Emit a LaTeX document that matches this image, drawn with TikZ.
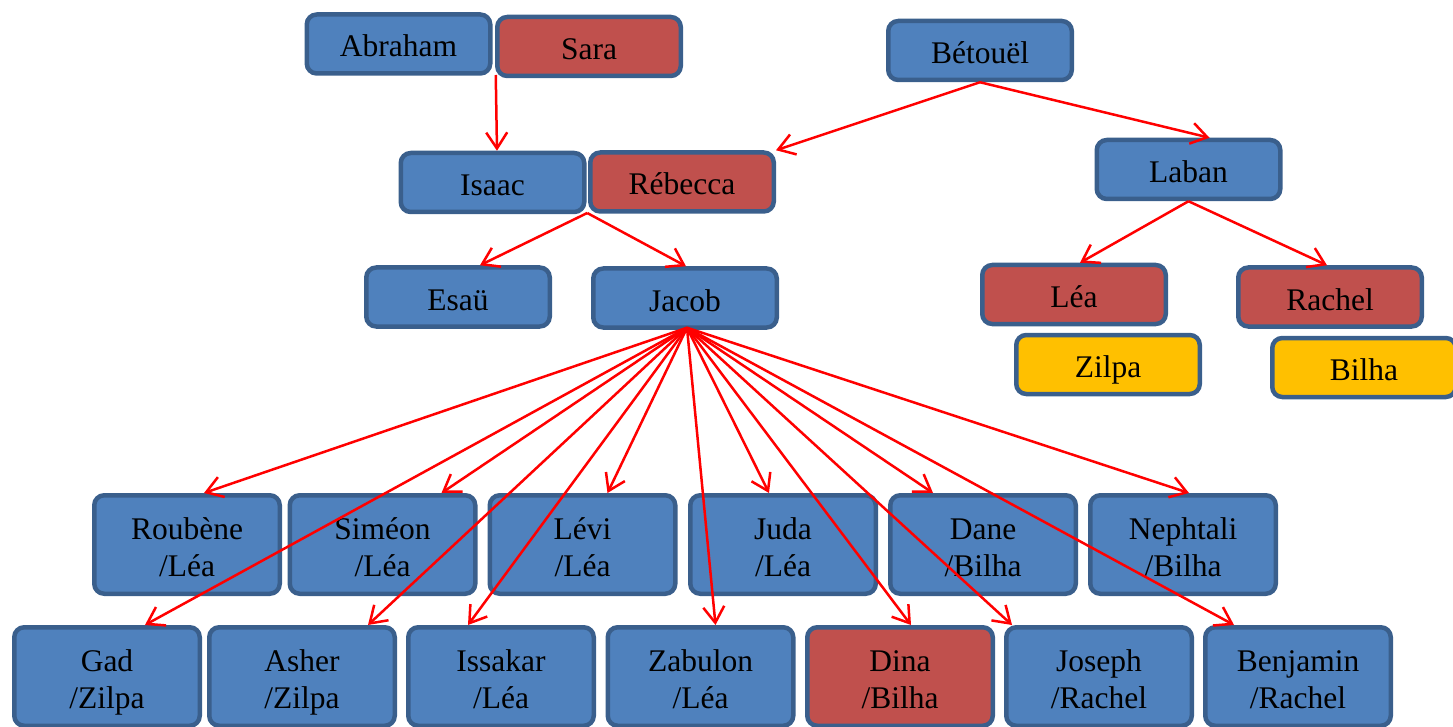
\documentclass[tikz,border=0pt]{standalone}
\usepackage{fontspec}
\setmainfont{Liberation Serif}
\usetikzlibrary{arrows.meta,calc}
\definecolor{boxline}{HTML}{3A5F8C}
\definecolor{bluefill}{HTML}{4F81BD}
\definecolor{redfill}{HTML}{C0504D}
\definecolor{yellowfill}{HTML}{FFC000}
\newcommand\tstrut{\rule[-8pt]{0pt}{42pt}}
\newcommand\boxfont{\fontsize{31.5}{37}\selectfont\lineskiplimit=-100pt\relax\lineskip=0pt\relax}
\tikzset{
  box/.style={draw=boxline, line width=4.5pt, rounded corners=10pt, inner sep=0pt,
    align=center, font=\boxfont,
    minimum width=183.5pt, minimum height=59pt},
  kid/.style={box, minimum width=185.5pt, minimum height=98.5pt},
  bluebox/.style={box, fill=bluefill},
  redbox/.style={box, fill=redfill},
  yellowbox/.style={box, fill=yellowfill},
  link/.style={draw=red, line width=2.5pt, -{Straight Barb[length=16pt,width=21pt]}}
}
\begin{document}
\begin{tikzpicture}[x=1pt,y=-1pt]
\useasboundingbox (0,0) rectangle (1453,727);
\clip (0,0) rectangle (1453,727);
% top generations
\node[bluebox] (abraham) at (398.5,44) {Abraham\tstrut};
\node[redbox] (sara) at (589,46.5) {Sara\tstrut};
\node[bluebox] (betouel) at (980,50.5) {Bétouël\tstrut};
\node[bluebox] (isaac) at (492.5,182.5) {Isaac\tstrut};
\node[redbox] (rebecca) at (682,182) {Rébecca\tstrut};
\node[bluebox] (laban) at (1188.5,169.5) {Laban\tstrut};
\node[bluebox] (esau) at (458,297) {Esaü\tstrut};
\node[bluebox] (jacob) at (685,298) {Jacob\tstrut};
\node[redbox] (lea) at (1074,294.5) {Léa\tstrut};
\node[redbox] (rachel) at (1330,297) {Rachel\tstrut};
\node[yellowbox] (zilpa) at (1108,364.5) {Zilpa\tstrut};
\node[yellowbox] (bilha) at (1364,367.5) {Bilha\tstrut};
% children row 1
\node[bluebox,kid] (roubene) at (187,544.5) {Roubène\tstrut\\/Léa\tstrut};
\node[bluebox,kid] (simeon) at (382.5,544.5) {Siméon\tstrut\\/Léa\tstrut};
\node[bluebox,kid] (levi) at (582.5,544.5) {Lévi\tstrut\\/Léa\tstrut};
\node[bluebox,kid] (juda) at (783,544.5) {Juda\tstrut\\/Léa\tstrut};
\node[bluebox,kid] (dane) at (983,544.5) {Dane\tstrut\\/Bilha\tstrut};
\node[bluebox,kid] (nephtali) at (1183,544.5) {Nephtali\tstrut\\/Bilha\tstrut};
% children row 2
\node[bluebox,kid] (gad) at (107,676.5) {Gad\tstrut\\/Zilpa\tstrut};
\node[bluebox,kid] (asher) at (302,676.5) {Asher\tstrut\\/Zilpa\tstrut};
\node[bluebox,kid] (issakar) at (501,676.5) {Issakar\tstrut\\/Léa\tstrut};
\node[bluebox,kid] (zabulon) at (700.5,676.5) {Zabulon\tstrut\\/Léa\tstrut};
\node[redbox,kid] (dina) at (900,676.5) {Dina\tstrut\\/Bilha\tstrut};
\node[bluebox,kid] (joseph) at (1099,676.5) {Joseph\tstrut\\/Rachel\tstrut};
\node[bluebox,kid] (benjamin) at (1298,676.5) {Benjamin\tstrut\\/Rachel\tstrut};
% junction points
\coordinate (as) at ($(abraham.south east)!0.5!(sara.south west)+(2,-2)$);
\coordinate (ir) at ($(isaac.south east)!0.5!(rebecca.south west)+(0,-1)$);
% connectors
\draw[link] (as) -- ($(isaac.north)+(4.5,0)$);
\draw[link] (betouel.south) -- (rebecca.north east);
\draw[link] (betouel.south) -- ($(laban.north)+(21,0)$);
\draw[link] (ir) -- ($(esau.north)+(22,0)$);
\draw[link] (ir) -- ($(jacob.north)+(1,0)$);
\draw[link] (laban.south) -- ($(lea.north)+(6,0)$);
\draw[link] (laban.south) -- ($(rachel.north)+(-3,0)$);
\coordinate (js) at ($(jacob.south)+(2,-2)$);
\draw[link] (js) -- ($(roubene.north)+(17,0)$);
\draw[link] (js) -- ($(gad.north)+(38,0)$);
\draw[link] (js) -- ($(simeon.north)+(59,0)$);
\draw[link] (js) -- ($(asher.north)+(66,0)$);
\draw[link] (js) -- ($(levi.north)+(25,0)$);
\draw[link] (js) -- ($(issakar.north)+(-33,0)$);
\draw[link] (js) -- ($(zabulon.north)+(15,0)$);
\draw[link] (js) -- ($(juda.north)+(-14,0)$);
\draw[link] (js) -- ($(dina.north)+(11,0)$);
\draw[link] (js) -- ($(dane.north)+(-50,0)$);
\draw[link] (js) -- ($(joseph.north)+(-87,0)$);
\draw[link] (js) -- ($(nephtali.north)+(6,0)$);
\draw[link] (js) -- ($(benjamin.north)+(-64,0)$);
\end{tikzpicture}
\end{document}
